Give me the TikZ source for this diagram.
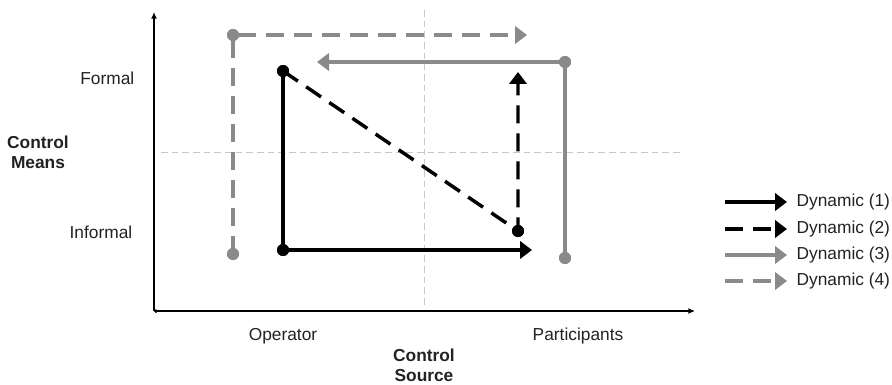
\documentclass[tikz,border=0pt]{standalone}
\usepackage{fontspec}
\setmainfont{Liberation Sans}
\usetikzlibrary{arrows.meta}
\definecolor{dyngray}{HTML}{8A8A8A}
\definecolor{guidegray}{HTML}{C8C8C8}
\definecolor{labelgray}{HTML}{222222}
\begin{document}
\begin{tikzpicture}[x=0.75pt, y=-0.75pt,
    axis/.style={line width=1.5pt, -{Latex[length=5pt,width=4.5pt]}},
    guide/.style={guidegray, line width=0.6pt, dash pattern=on 5pt off 3pt},
    dyn1/.style={line width=2.6pt, -{Triangle[length=9pt,width=13pt]}},
    dyn2/.style={dyn1, dash pattern=on 13.5pt off 7.5pt},
    dyn3/.style={dyn1, dyngray},
    dyn4/.style={dyn2, dyngray},
    dotb/.style={circle, fill, inner sep=0pt, minimum size=9pt},
    dotg/.style={dotb, dyngray},
    lab/.style={text=labelgray, font=\fontsize{13}{15}\selectfont},
    title/.style={lab, font=\fontsize{13}{15}\selectfont\bfseries, align=center},
    legtext/.style={lab, anchor=west, inner xsep=7pt}
  ]
  \useasboundingbox (0,0) rectangle (892,385);

  % axes
  \coordinate (O) at (154,311);
  \coordinate (ytop) at (154,12);
  \coordinate (xend) at (695,311);
  \draw[axis] (O) -- (ytop);
  \draw[axis, {Diamond[length=3pt,width=3pt]}-{Latex[length=5pt,width=4.5pt]}] (O) -- (xend);

  % quadrant guides
  \coordinate (vtop) at (424,10);
  \coordinate (vbot) at (424,305);
  \coordinate (hleft) at (161,152);
  \coordinate (hright) at (683,152);
  \draw[guide] (vtop) -- (vbot);
  \draw[guide] (hleft) -- (hright);

  % axis labels
  \node[lab, anchor=east] (formal) at (139,78) {Formal};
  \node[lab, anchor=east] (informal) at (137,232) {Informal};
  \node[title] (means) at (38,152) {Control\\Means};
  \node[lab] (operator) at (283,336) {Operator};
  \node[lab] (participants) at (578,336) {Participants};
  \node[title] (source) at (424,365) {Control\\Source};

  % points of the dynamics
  \node[dotb] (opform) at (283,71) {};
  \node[dotb] (opinf) at (283,250) {};
  \node[dotb] (partinf) at (518,231) {};
  \node[dotg] (partinf3) at (565,258) {};
  \node[dotg] (partform3) at (565,62) {};
  \node[dotg] (opinf4) at (233,254) {};
  \node[dotg] (opform4) at (233,35) {};
  \coordinate (t1) at (532,250);
  \coordinate (t2) at (518,72);
  \coordinate (t3) at (317,62);
  \coordinate (t4) at (527,35);

  % dynamics
  \draw[dyn4] (opinf4.center) -- (opform4.center) -- (t4);
  \draw[dyn3] (partinf3.center) -- (partform3.center) -- (t3);
  \draw[dyn1] (opform.center) -- (opinf.center) -- (t1);
  \draw[dyn2] (opform.center) -- (partinf.center) -- (t2);
  \node[dotg] at (opinf4) {};
  \node[dotg] at (opform4) {};
  \node[dotg] at (partinf3) {};
  \node[dotg] at (partform3) {};
  \node[dotb] at (opform) {};
  \node[dotb] at (opinf) {};
  \node[dotb] at (partinf) {};

  % legend
  \foreach \k/\y in {1/202, 2/229, 3/255, 4/281} {
    \node[legtext] (leg\k) at (787,\y) {Dynamic (\k)};
    \coordinate (legs\k) at (725,\y);
    \draw[dyn\k] (legs\k) -- (leg\k);
  }
\end{tikzpicture}
\end{document}
